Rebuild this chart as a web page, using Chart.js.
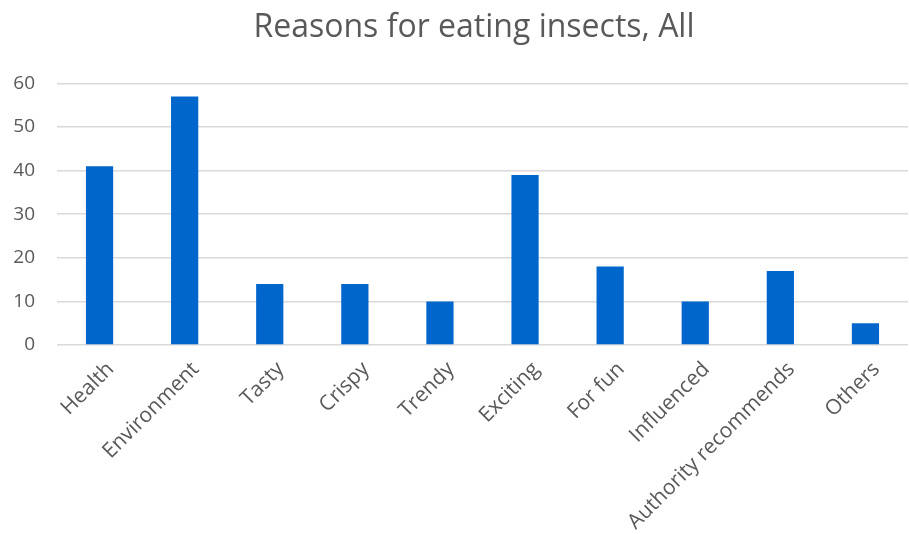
<!DOCTYPE html>
<html>
<head>
<meta charset="utf-8">
<script src="https://cdn.jsdelivr.net/npm/chart.js@4"></script>
<style>
  html, body { margin: 0; padding: 0; background: #fff; }
  #wrap { width: 909px; height: 534px; }
</style>
</head>
<body>
<div id="wrap"><canvas id="insectChart"></canvas></div>
<script>
// 資料
const categories = [
  "Health", "Environment", "Tasty", "Crispy", "Trendy",
  "Exciting", "For fun", "Influenced", "Authority recommends", "Others",
];
const counts = [41, 57, 14, 14, 10, 39, 18, 10, 17, 5];
const yTicks = [0, 10, 20, 30, 40, 50, 60];

const textGray = "#595959";
const fontFamily = "'Open Sans', sans-serif";

// 標題稍微往右移，與原圖位置一致
const titleShift = {
  id: "titleShift",
  afterLayout(chart) {
    const tb = chart.titleBlock;
    if (!tb) return;
    tb.left += 16;
    tb.right += 16;
  },
};

new Chart(document.getElementById("insectChart"), {
  type: "bar",
  data: {
    labels: categories,
    datasets: [
      {
        label: "All",
        data: counts,
        backgroundColor: "#0066cc",
        borderWidth: 0,
        barPercentage: 0.32,
        categoryPercentage: 1,
      },
    ],
  },
  plugins: [titleShift],
  options: {
    responsive: true,
    maintainAspectRatio: false,
    animation: false,
    layout: { padding: { left: 8, right: 1, top: 0, bottom: 0 } },
    plugins: {
      legend: { display: false },
      tooltip: { enabled: false },
      title: {
        display: true,
        text: "Reasons for eating insects, All",
        color: textGray,
        font: { family: fontFamily, size: 32, weight: "normal" },
        padding: { top: 9, bottom: 36 },
      },
    },
    scales: {
      x: {
        grid: { display: false },
        border: { display: false },
        afterFit: (axis) => {
          axis.height = 189;
        },
        ticks: {
          color: textGray,
          font: { family: fontFamily, size: 21 },
          minRotation: 45,
          maxRotation: 45,
          autoSkip: false,
          padding: 4,
          labelOffset: 11,
        },
      },
      y: {
        min: 0,
        max: 60,
        afterBuildTicks: (axis) => {
          axis.ticks = yTicks.map((v) => ({ value: v }));
        },
        afterFit: (axis) => {
          axis.width = 49;
        },
        grid: { color: "#d9d9d9", lineWidth: 1.5, drawTicks: false },
        border: { display: false },
        ticks: {
          color: textGray,
          font: { family: fontFamily, size: 19 },
          padding: 22,
        },
      },
    },
  },
});
</script>
</body>
</html>
